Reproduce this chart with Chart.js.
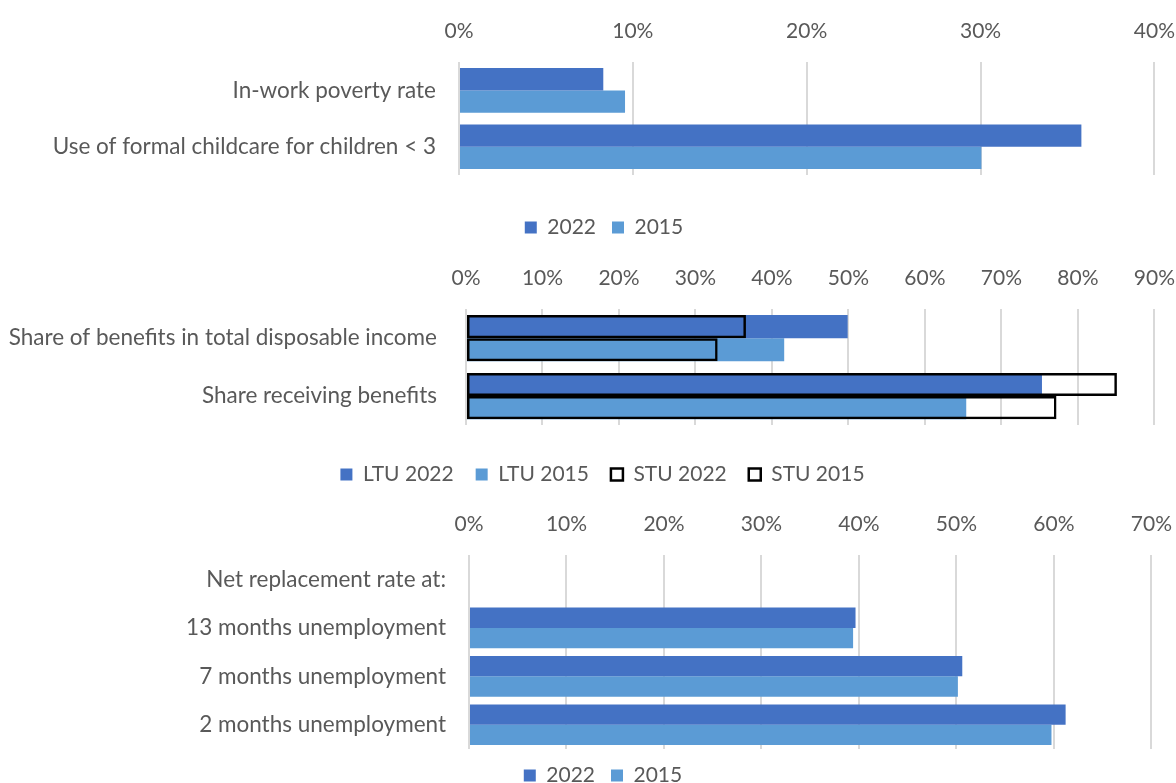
<!DOCTYPE html>
<html>
<head>
<meta charset="utf-8">
<script src="https://cdn.jsdelivr.net/npm/chart.js@4.4.1/dist/chart.umd.min.js"></script>
<style>
  html, body { margin: 0; padding: 0; background: #fff; overflow: hidden; width: 1176px; height: 783px; }
  .panel { position: absolute; left: 0; }
</style>
</head>
<body>
<div class="panel" style="top:0px;width:1193px;height:250px"><canvas id="c1"></canvas></div>
<div class="panel" style="top:247px;width:1193px;height:250px"><canvas id="c2"></canvas></div>
<div class="panel" style="top:493px;width:1190px;height:305px"><canvas id="c3"></canvas></div>
<script>
// ---------- Data ----------
const cats1 = ["In-work poverty rate", "Use of formal childcare for children < 3"];
const p1_2022 = [8.3, 35.8];
const p1_2015 = [9.55, 30.05];

const cats2 = ["Share of benefits in total disposable income", "Share receiving benefits"];
const ltu2022 = [49.9, 75.3];
const ltu2015 = [41.6, 65.4];
const stu2022 = [36.6, 85.1];
const stu2015 = [32.9, 77.2];

const cats3 = ["Net replacement rate at:", "13 months unemployment", "7 months unemployment", "2 months unemployment"];
const p3_2022 = [null, 39.65, 50.6, 61.2];
const p3_2015 = [null, 39.4, 50.15, 59.75];

const legend1 = ["2022", "2015"];
const legend2 = ["LTU 2022", "LTU 2015", "STU 2022", "STU 2015"];

// ---------- Style ----------
const C22 = "#4472C4", C15 = "#5B9BD5";
const TXT = "#595959";
const FONT = "Lato, 'Open Sans', sans-serif";
const GRID = "#d9d9d9";

function xScale(max, step) {
  return {
    position: "top", min: 0, max: max, stacked: false,
    ticks: { stepSize: step, color: TXT, font: { family: FONT, size: 21 }, padding: 18,
             callback: v => v + "%" },
    grid: { color: GRID, lineWidth: 2, drawTicks: false },
    border: { display: false }
  };
}
function spacer(h) {
  return {
    type: "linear", position: "bottom", display: true,
    ticks: { display: false }, grid: { display: false, drawTicks: false }, border: { display: false },
    afterFit: s => { s.height = h; }
  };
}
function yScale(width, pad) {
  return {
    type: "category",
    ticks: { color: TXT, font: { family: FONT, size: 22.5 }, padding: pad },
    grid: { display: false, drawTicks: false },
    border: { display: false },
    afterFit: s => { s.width = width; }
  };
}
function legendOpts(gap) {
  return {
    position: "bottom",
    labels: { color: TXT, font: { family: FONT, size: 21 }, boxWidth: 12, boxHeight: 12, padding: gap,
              sort: (a, b) => a.datasetIndex - b.datasetIndex }
  };
}
// shifts a chart's legend horizontally after layout
function legendShift(dx) {
  return { id: "legendShift", afterLayout(chart) { if (chart.legend) { chart.legend.left += dx; chart.legend.right += dx; } } };
}

const common = { responsive: true, maintainAspectRatio: false, animation: false, indexAxis: "y" };

// Panel 1
new Chart(document.getElementById("c1"), {
  type: "bar",
  data: { labels: cats1, datasets: [
    { label: legend1[0], data: p1_2022, backgroundColor: C22, categoryPercentage: 0.79, barPercentage: 1 },
    { label: legend1[1], data: p1_2015, backgroundColor: C15, categoryPercentage: 0.79, barPercentage: 1 }
  ]},
  options: Object.assign({}, common, {
    layout: { padding: { top: 1, right: 0, left: 15, bottom: 2 } },
    scales: { x: xScale(40, 10), xs: spacer(26), y: yScale(459 - 15, 23) },
    plugins: { legend: legendOpts(16), tooltip: { enabled: false } }
  })
});

// Panel 2 (STU outlines overlaid on LTU bars through shared stacks)
const bp = { categoryPercentage: 0.8, barPercentage: 1 };
new Chart(document.getElementById("c2"), {
  type: "bar",
  data: { labels: cats2, datasets: [
    Object.assign({ label: legend2[0], data: ltu2022, backgroundColor: C22, stack: "s22", order: 2 }, bp),
    Object.assign({ label: legend2[1], data: ltu2015, backgroundColor: C15, stack: "s15", order: 2 }, bp),
    Object.assign({ label: legend2[2], data: stu2022, backgroundColor: "rgba(0,0,0,0)", borderColor: "#000", borderWidth: 2.5, borderSkipped: false, stack: "s22", order: 1 }, bp),
    Object.assign({ label: legend2[3], data: stu2015, backgroundColor: "rgba(0,0,0,0)", borderColor: "#000", borderWidth: 2.5, borderSkipped: false, stack: "s15", order: 1 }, bp)
  ]},
  options: Object.assign({}, common, {
    layout: { padding: { top: 1, right: 0, left: 0, bottom: 2 } },
    scales: { x: xScale(90, 10), xs: spacer(17), y: yScale(466, 29) },
    plugins: { legend: legendOpts(22), tooltip: { enabled: false } }
  }),
  plugins: [legendShift(6)]
});

// Panel 3
new Chart(document.getElementById("c3"), {
  type: "bar",
  data: { labels: cats3, datasets: [
    { label: legend1[0], data: p3_2022, backgroundColor: C22, categoryPercentage: 0.84, barPercentage: 1 },
    { label: legend1[1], data: p3_2015, backgroundColor: C15, categoryPercentage: 0.84, barPercentage: 1 }
  ]},
  options: Object.assign({}, common, {
    layout: { padding: { top: 1, right: 0, left: 16, bottom: 2 } },
    scales: { x: xScale(70, 10), y: yScale(469 - 16, 23) },
    plugins: { legend: legendOpts(16), tooltip: { enabled: false } }
  })
});
</script>
</body>
</html>
